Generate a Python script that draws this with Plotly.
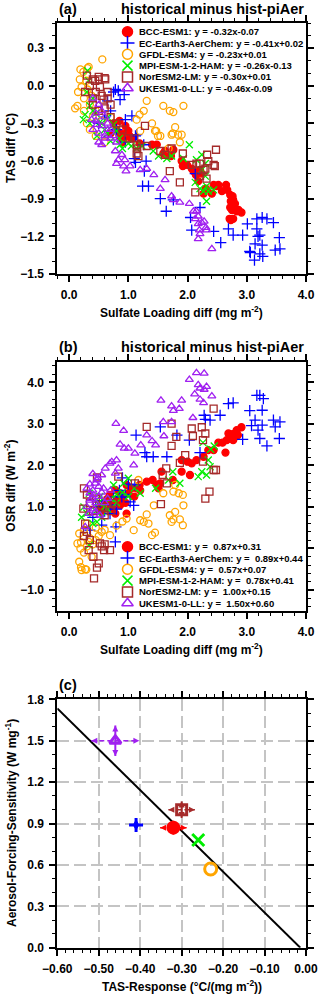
import numpy as np
import plotly.graph_objects as go

# model order, slopes/intercepts printed in the legends, errors on the slopes (panel c)
MODELS = ["BCC-ESM1", "EC-Earth3-AerChem", "GFDL-ESM4", "MPI-ESM-1-2-HAM", "NorESM2-LM", "UKESM1-0-LL"]
TAS_SLOPE = [-0.32, -0.41, -0.23, -0.26, -0.30, -0.46]
TAS_ICPT = [-0.07, 0.02, 0.01, -0.13, 0.01, -0.09]
OSR_SLOPE = [0.87, 0.89, 0.57, 0.78, 1.00, 1.50]
OSR_ICPT = [0.31, 0.44, 0.07, 0.41, 0.15, 0.60]
TAS_SLOPE_ERR = [0.032, 0.011, 0.0, 0.0, 0.032, 0.058]
OSR_SLOPE_ERR = [0.05, 0.045, 0.0, 0.0, 0.06, 0.11]

# panel (a): sulfate loading diff vs TAS diff
BCC_SO4_A = [0.85, 0.90, 0.95, 1.00, 1.02, 0.92, 1.05, 1.19, 1.40, 1.48, 1.59, 1.62, 1.65, 1.72, 1.76, 1.90,
             1.92, 1.99, 2.07, 2.10, 2.14, 2.18, 2.21, 2.24, 2.27, 2.31, 2.41, 2.44, 2.49, 2.52, 2.58, 2.65,
             2.67, 2.72, 2.73, 2.76, 2.77, 2.80, 2.72, 2.75, 2.71, 2.73, 2.77, 2.83, 2.86, 2.91,
             0.75, 0.80, 0.85, 0.70, 0.90]
BCC_TAS = [-0.40, -0.38, -0.32, -0.36, -0.40, -0.43, -0.42, -0.46, -0.47, -0.47, -0.54, -0.52, -0.55, -0.56, -0.51, -0.60,
           -0.64, -0.63, -0.66, -0.68, -0.71, -0.76, -0.67, -0.70, -0.86, -0.82, -0.86, -0.79, -0.80, -0.79, -0.84, -0.79,
           -0.83, -0.87, -0.92, -0.88, -0.91, -0.94, -0.97, -0.99, -1.06, -1.07, -1.06, -1.00, -0.99, -1.01,
           -0.30, -0.35, -0.28, -0.38, -0.45]
EC_SO4_A = [0.75, 0.78, 0.83, 0.93, 0.86, 0.95, 1.06, 1.14, 1.12, 1.26, 1.10, 1.12, 1.30, 1.27, 1.24, 1.34,
            1.54, 1.64, 1.76, 2.21, 2.05, 2.07, 2.13, 2.44, 2.56, 2.69, 2.77, 2.93, 3.01, 3.17, 3.26, 3.34,
            3.45, 3.17, 3.22, 3.19, 3.14, 3.26, 3.05, 3.06, 3.22, 3.27, 3.13, 3.48, 3.56, 3.55,
            0.50, 0.60, 0.70, 0.80, 0.95, 0.65]
EC_TAS = [-0.05, -0.03, -0.04, -0.07, -0.11, -0.27, -0.24, -0.39, -0.40, -0.47, -0.58, -0.61, -0.60, -0.68, -0.80, -0.80,
          -0.90, -1.00, -0.91, -0.97, -1.05, -1.15, -0.70, -1.16, -1.25, -1.14, -1.19, -1.19, -1.10, -1.06, -1.05, -1.06,
          -1.09, -1.14, -1.19, -1.20, -1.26, -1.27, -1.32, -1.33, -1.34, -1.36, -1.39, -1.31, -1.30, -1.21,
          -0.30, -0.25, -0.20, -0.35, -0.45, -0.12]
GFDL_SO4_A = [0.19, 0.18, 0.24, 0.31, 0.33, 0.29, 0.21, 0.14, 0.56, 0.31, 0.38, 1.31, 1.26, 1.19, 1.14, 1.40,
              1.59, 1.70, 1.76, 1.93, 1.79, 1.73, 1.84, 1.90, 1.45, 1.54, 1.20, 1.47, 1.50, 1.75, 1.87, 1.68,
              0.25, 0.35, 0.45, 0.40, 0.55, 0.30, 0.10, 0.25, 0.35, 0.45, 0.60, 0.70, 0.15]
GFDL_TAS = [0.13, 0.05, 0.11, 0.14, 0.15, 0.04, -0.01, -0.16, 0.21, -0.03, -0.08, -0.12, -0.20, -0.23, -0.27, -0.30,
            -0.16, -0.20, -0.21, -0.16, -0.33, -0.39, -0.39, -0.39, -0.36, -0.40, -0.36, -0.36, -0.40, -0.38, -0.45, -0.50,
            -0.10, -0.15, -0.20, -0.25, -0.28, -0.30, -0.18, -0.20, -0.35, -0.40, -0.45, -0.25, -0.05]
MPI_SO4_A = [0.31, 0.33, 0.27, 0.24, 0.35, 0.52, 0.75, 0.80, 0.47, 0.86, 1.00, 1.14, 1.23, 1.42, 1.51, 1.65,
             1.73, 1.93, 2.03, 2.15, 2.24, 2.30, 2.13, 2.21, 2.27, 2.35, 2.44, 2.32, 2.24, 2.30, 2.32, 0.40,
             0.60, 0.65, 0.30, 0.40, 0.45, 0.55, 0.65, 0.70, 0.85, 0.90, 1.05, 0.35]
MPI_TAS = [0.12, 0.04, -0.23, -0.27, -0.16, -0.29, -0.31, -0.36, -0.40, -0.47, -0.46, -0.50, -0.48, -0.52, -0.56, -0.58,
           -0.56, -0.58, -0.47, -0.59, -0.55, -0.62, -0.77, -0.82, -0.84, -0.84, -0.83, -0.92, -0.67, -0.72, -0.80, -0.20,
           -0.35, -0.25, -0.05, -0.10, -0.22, -0.30, -0.38, -0.44, -0.42, -0.50, -0.48, -0.30]
NOR_SO4_A = [0.44, 0.50, 0.61, 0.35, 0.52, 0.27, 0.58, 1.28, 1.14, 1.31, 1.54, 1.62, 1.73, 1.92, 1.87, 1.70,
             2.13, 2.07, 2.15, 2.21, 2.30, 2.35, 2.44, 2.46, 2.48, 2.33, 2.27, 2.21, 2.32, 1.14, 1.17, 1.00,
             0.40, 0.65, 0.70, 0.30, 0.40, 0.50, 0.60, 0.45, 0.55, 0.65, 0.40, 0.50, 0.60, 0.70, 0.80, 0.90,
             1.10, 1.15]
NOR_TAS = [0.04, 0.05, 0.05, 0.00, -0.01, -0.05, -0.11, -0.32, -0.47, -0.48, -0.52, -0.55, -0.50, -0.54, -0.77, -0.68,
           -0.85, -0.63, -0.62, -0.62, -0.66, -0.60, -0.63, -0.64, -0.51, -0.55, -0.67, -0.72, -0.74, -0.54, -0.56, -0.42,
           -0.10, -0.05, -0.15, 0.08, 0.05, 0.07, 0.06, -0.05, -0.08, -0.10, -0.15, -0.20, -0.18, -0.25, -0.30, -0.35,
           -0.42, -0.50]
UK_SO4_A = [0.47, 0.55, 0.38, 0.45, 0.60, 0.70, 0.78, 0.83, 0.80, 0.89, 0.94, 0.92, 0.96, 1.03, 1.20, 1.31,
            1.43, 1.62, 1.54, 1.73, 1.76, 1.87, 2.03, 2.10, 2.15, 2.18, 2.13, 2.18, 2.24, 2.28, 2.31, 2.20,
            2.21, 2.18, 2.32, 2.41, 0.50, 0.65, 0.40, 0.50, 0.55, 0.60, 0.65, 0.45, 0.40, 0.50, 0.60, 0.70,
            0.75, 0.80, 0.55]
UK_TAS = [-0.31, -0.32, -0.27, -0.22, -0.40, -0.42, -0.52, -0.59, -0.62, -0.55, -0.59, -0.64, -0.68, -0.64, -0.67, -0.66,
          -0.71, -0.75, -0.82, -0.88, -0.91, -0.93, -0.94, -1.00, -1.00, -1.04, -1.06, -1.10, -1.09, -1.08, -1.13, -1.15,
          -1.18, -1.22, -1.15, -1.30, -0.45, -0.35, -0.10, -0.15, -0.20, -0.25, -0.30, -0.28, -0.35, -0.38, -0.42, -0.35,
          -0.40, -0.45, -0.47]

# panel (b): sulfate loading diff vs OSR diff
BCC_SO4_B = [2.91, 2.83, 2.69, 2.77, 2.80, 2.72, 2.66, 2.59, 2.52, 2.77, 2.85, 2.64, 2.44, 2.35, 2.27, 2.15,
             2.07, 2.00, 1.90, 1.90, 2.04, 1.75, 1.54, 1.56, 1.41, 1.31, 1.19, 1.14, 0.97, 1.00, 0.86, 0.69,
             0.78, 0.52, 0.69, 0.78, 0.86, 0.97, 1.48, 1.51, 0.55, 0.60, 0.65, 0.70, 0.75, 0.80, 0.90, 0.95,
             1.05, 1.10, 1.20]
BCC_OSR = [2.92, 2.85, 2.77, 2.76, 2.69, 2.65, 2.61, 2.55, 2.55, 2.61, 2.73, 2.31, 2.37, 2.37, 2.21, 2.13,
           2.05, 2.09, 2.13, 1.85, 1.77, 1.65, 1.57, 1.85, 1.65, 1.61, 1.53, 1.45, 1.53, 1.33, 1.33, 1.29,
           1.41, 0.96, 0.96, 0.84, 1.04, 0.84, 1.53, 1.45, 0.90, 1.10, 1.20, 1.05, 0.95, 1.15, 1.20, 1.10,
           1.45, 1.25, 1.40]
EC_SO4_B = [3.17, 3.22, 3.28, 2.69, 2.77, 2.55, 3.05, 3.26, 2.28, 2.38, 2.30, 3.14, 3.26, 3.45, 3.56, 3.48,
            3.08, 3.19, 3.22, 2.93, 3.55, 3.34, 1.54, 1.13, 1.82, 1.28, 1.31, 1.42, 1.65, 2.21, 2.03, 0.89,
            1.03, 1.09, 0.79, 0.78, 0.55, 0.35, 0.69, 1.11, 0.40, 0.45, 0.55, 0.60, 0.70, 0.75, 0.80, 0.85,
            0.95, 1.00, 0.90]
EC_OSR = [3.69, 3.69, 3.61, 3.49, 3.51, 3.21, 3.32, 3.33, 3.21, 3.09, 3.11, 3.09, 2.97, 3.09, 3.05, 2.93,
          2.96, 2.85, 2.65, 2.63, 2.65, 2.47, 2.93, 2.73, 2.73, 2.31, 2.21, 2.21, 2.21, 2.31, 2.61, 1.24,
          1.12, 1.04, 0.52, 0.16, 0.56, 0.44, 0.84, 1.53, 0.75, 1.00, 1.15, 0.90, 1.05, 1.25, 0.95, 1.40,
          1.30, 1.55, 1.70]
GFDL_SO4_B = [1.59, 1.76, 1.85, 1.92, 1.79, 1.17, 1.93, 1.43, 1.79, 1.70, 1.76, 1.87, 1.92, 1.73, 1.31, 1.20,
              1.26, 1.34, 1.09, 1.40, 1.45, 0.97, 0.69, 0.17, 0.14, 0.19, 0.17, 0.21, 0.29, 0.33, 0.38, 0.45,
              0.55, 0.30, 0.20, 0.25, 0.30, 0.35, 0.40, 0.50, 0.25, 0.45, 0.60, 0.20, 0.27, 0.80, 0.90]
GFDL_OSR = [1.33, 1.37, 1.33, 1.29, 1.53, 1.65, 1.04, 1.04, 0.88, 0.80, 0.70, 0.70, 0.56, 0.64, 0.82, 0.68,
            0.64, 0.60, 0.44, 0.32, 0.38, 0.72, 0.32, 0.36, 0.12, 0.00, -0.32, -0.52, -0.51, 0.16, -0.20, 0.20,
            0.40, 0.60, 0.15, -0.10, 0.05, 0.25, 0.10, 0.30, 0.45, 0.50, 0.45, -0.45, -0.50, 0.55, 0.65]
MPI_SO4_B = [2.26, 2.39, 2.45, 2.35, 2.38, 2.24, 2.32, 2.18, 1.87, 1.75, 1.68, 1.46, 1.00, 0.92, 1.20, 0.75,
             0.52, 0.34, 0.21, 0.34, 0.47, 0.60, 0.80, 0.25, 0.30, 0.40, 0.45, 0.50, 0.55, 0.65, 0.70, 0.80,
             0.90, 1.00, 1.10]
MPI_OSR = [2.55, 2.39, 2.47, 2.13, 1.97, 1.85, 1.77, 1.73, 1.57, 1.85, 1.65, 1.45, 1.69, 1.57, 1.33, 1.53,
           1.25, 1.33, 0.75, 0.08, 0.64, 1.00, 1.10, 1.00, 0.85, 0.60, 0.90, 1.10, 0.75, 0.95, 1.20, 1.30,
           1.35, 1.25, 1.45]
NOR_SO4_B = [2.44, 2.24, 2.07, 2.09, 2.30, 2.26, 1.73, 1.81, 1.73, 1.31, 1.96, 1.87, 1.64, 1.58, 1.65, 2.26,
             2.44, 2.48, 0.83, 0.47, 1.11, 2.37, 2.30, 1.55, 0.24, 0.27, 0.52, 0.59, 0.69, 0.33, 0.41, 0.50,
             0.47, 0.42, 0.25, 0.30, 0.35, 0.40, 0.45, 0.55, 0.60, 0.65, 0.30, 0.35, 0.25, 0.70, 0.75, 0.55,
             0.60]
NOR_OSR = [3.37, 2.92, 2.89, 2.71, 2.77, 2.61, 3.01, 2.69, 2.47, 2.93, 2.25, 2.06, 1.93, 1.77, 1.57, 2.09,
           1.89, 1.89, 1.73, 1.71, 1.57, 1.37, 1.20, 1.07, 0.96, 0.60, 0.12, -0.04, -0.04, -0.04, -0.20, -0.36,
           -0.46, -0.72, 1.45, 1.30, 1.10, 0.90, 1.20, 1.00, 0.80, 1.15, 0.40, 0.20, 0.30, 0.90, 1.10, 0.05,
           0.10]
UK_SO4_B = [2.15, 2.28, 2.03, 2.18, 2.21, 2.28, 2.32, 2.41, 2.12, 2.27, 2.21, 1.55, 1.90, 1.73, 1.76, 1.86,
            2.09, 0.79, 1.59, 1.73, 0.92, 1.31, 1.60, 1.40, 1.46, 1.21, 0.86, 0.93, 1.00, 1.11, 0.72, 0.69,
            0.80, 1.09, 0.83, 0.78, 0.61, 0.55, 0.47, 0.44, 0.50, 0.58, 0.35, 0.41, 0.35, 0.33, 0.44, 0.52,
            0.27, 0.30, 0.35, 0.40, 0.38, 0.45, 0.50, 0.55, 0.60, 0.42, 0.30, 0.65, 0.70, 0.48, 0.40]
UK_OSR = [4.23, 4.22, 4.07, 3.94, 3.86, 3.83, 3.90, 3.67, 3.72, 3.51, 3.59, 3.57, 3.57, 3.43, 3.32, 3.37,
          3.15, 3.01, 3.05, 3.05, 2.84, 2.73, 2.71, 2.59, 2.49, 2.49, 2.51, 2.41, 2.41, 2.29, 2.09, 2.05,
          2.13, 2.01, 1.93, 1.81, 1.93, 1.77, 1.65, 1.57, 1.49, 1.45, 1.33, 1.29, 1.16, 0.84, 0.88, 0.80,
          0.52, 1.45, 1.55, 1.40, 1.20, 1.10, 1.25, 1.35, 1.10, 0.95, 1.00, 1.20, 1.40, 1.70, 1.80]

SO4_A = [BCC_SO4_A, EC_SO4_A, GFDL_SO4_A, MPI_SO4_A, NOR_SO4_A, UK_SO4_A]
TAS = [BCC_TAS, EC_TAS, GFDL_TAS, MPI_TAS, NOR_TAS, UK_TAS]
SO4_B = [BCC_SO4_B, EC_SO4_B, GFDL_SO4_B, MPI_SO4_B, NOR_SO4_B, UK_SO4_B]
OSR = [BCC_OSR, EC_OSR, GFDL_OSR, MPI_OSR, NOR_OSR, UK_OSR]

# styles
COLORS = ["#FF0000", "#0000FF", "#FFA500", "#00EE00", "#A52A2A", "#A020F0"]
SYMBOLS = ["circle", "cross-thin", "circle-open", "x-thin", "square-open", "triangle-up-open"]
SIZES = [7, 8, 7, 7, 7, 7]
SIZES_C = [11, 10, 12, 12, 10, 10]
FONT = "Liberation Sans, Arial, sans-serif"
W, H = 320, 998
X0, X1 = 57.3, 306.0              # plot frame, px
PANELS = [(23.0, 274.0), (361.7, 610.7), (699.3, 947.7)]  # top/bottom px


def py(v):
    return 1 - v / H


def marker(i, size, lw):
    return dict(symbol=SYMBOLS[i], size=size, color=COLORS[i],
                line=dict(color=COLORS[i], width=lw))


fig = go.Figure()

for i in range(len(MODELS)):
    fig.add_trace(go.Scatter(x=SO4_A[i], y=TAS[i], mode="markers", xaxis="x", yaxis="y",
                             marker=marker(i, SIZES[i], 1.3), showlegend=False))
for i in range(len(MODELS)):
    fig.add_trace(go.Scatter(x=SO4_B[i], y=OSR[i], mode="markers", xaxis="x2", yaxis="y2",
                             marker=marker(i, SIZES[i], 1.3), showlegend=False))

# panel (c): regression line across models
slope, icpt = np.polyfit(TAS_SLOPE, OSR_SLOPE, 1)
x_end = -icpt / slope
fig.add_trace(go.Scatter(x=[-0.6, x_end], y=[slope * -0.6 + icpt, 0.0], mode="lines",
                         xaxis="x3", yaxis="y3", line=dict(color="black", width=2), showlegend=False))

for i in range(len(MODELS)):
    x, y = TAS_SLOPE[i], OSR_SLOPE[i]
    ex, ey = TAS_SLOPE_ERR[i], OSR_SLOPE_ERR[i]
    if ex > 0:
        fig.add_trace(go.Scatter(x=[x - ex, x + ex], y=[y, y], mode="lines", xaxis="x3", yaxis="y3",
                                 line=dict(color=COLORS[i], width=1.5, dash="5px,3px"), showlegend=False))
        fig.add_trace(go.Scatter(x=[x - ex, x + ex], y=[y, y], mode="markers", xaxis="x3", yaxis="y3",
                                 marker=dict(symbol=["arrow-left", "arrow-right"], size=6, color=COLORS[i]),
                                 showlegend=False))
    if ey > 0:
        fig.add_trace(go.Scatter(x=[x, x], y=[y - ey, y + ey], mode="lines", xaxis="x3", yaxis="y3",
                                 line=dict(color=COLORS[i], width=2), showlegend=False))
        fig.add_trace(go.Scatter(x=[x, x], y=[y - ey, y + ey], mode="markers", xaxis="x3", yaxis="y3",
                                 marker=dict(symbol=["arrow-down", "arrow-up"], size=6, color=COLORS[i]),
                                 showlegend=False))
for i in range(len(MODELS)):
    fig.add_trace(go.Scatter(x=[TAS_SLOPE[i]], y=[OSR_SLOPE[i]], mode="markers", xaxis="x3", yaxis="y3",
                             marker=marker(i, SIZES_C[i], 3), showlegend=False))

# legends drawn by hand on a pixel frame covering the figure
LEG_TOP = [31.7, 546.7]
LEG_STEP = 11.3
annotations = []
for k, (slopes, icpts) in enumerate([(TAS_SLOPE, TAS_ICPT), (OSR_SLOPE, OSR_ICPT)]):
    ys = [LEG_TOP[k] + j * LEG_STEP for j in range(len(MODELS))]
    for i in range(len(MODELS)):
        fig.add_trace(go.Scatter(x=[127.5], y=[ys[i]], mode="markers", xaxis="x4", yaxis="y4",
                                 marker=marker(i, 10, 1.5), showlegend=False))
        label = f"{MODELS[i]}: y = {slopes[i]: .2f}x{icpts[i]:+.2f}".replace("  ", "\u00a0 ")
        annotations.append(dict(x=137, y=ys[i], xref="x4", yref="y4", text=label, showarrow=False,
                                xanchor="left", yanchor="middle",
                                font=dict(family=FONT, size=9.5, color="black", weight="bold")))

# titles and axis titles
for k, tag in enumerate(["(a)", "(b)", "(c)"]):
    top = PANELS[k][0]
    annotations.append(dict(x=X0 / W, y=py(top - 14.5), xref="paper", yref="paper", text=tag,
                            showarrow=False, xanchor="left", yanchor="middle",
                            font=dict(family=FONT, size=14.5, color="black", weight="bold")))
    if k < 2:
        annotations.append(dict(x=X1 / W, y=py(top - 14.5), xref="paper", yref="paper",
                                text="historical minus hist-piAer", showarrow=False,
                                xanchor="right", yanchor="middle",
                                font=dict(family=FONT, size=14.5, color="black", weight="bold")))

XTITLES = ["Sulfate Loading diff (mg m<sup>-2</sup>)", "Sulfate Loading diff (mg m<sup>-2</sup>)",
           "TAS-Response (°C/(mg m<sup>-2</sup>))"]
YTITLES = ["TAS diff (°C)", "OSR diff (W m<sup>-2</sup>)", "Aerosol-Forcing-Sensitivity (W mg<sup>-1</sup>)"]
for k in range(3):
    top, bot = PANELS[k]
    annotations.append(dict(x=(X0 + X1) / 2 / W, y=py(bot + 38), xref="paper", yref="paper",
                            text=XTITLES[k], showarrow=False, xanchor="center", yanchor="middle",
                            font=dict(family=FONT, size=12, color="black", weight="bold")))
    annotations.append(dict(x=10.5 / W, y=py((top + bot) / 2), xref="paper", yref="paper",
                            text=YTITLES[k], showarrow=False, textangle=-90, xanchor="center",
                            yanchor="middle", font=dict(family=FONT, size=12, color="black", weight="bold")))


def axis(dom, rng, dtick, minor, fmt, anchor, grid=False):
    return dict(domain=dom, range=rng, dtick=dtick, tick0=0, tickformat=fmt, anchor=anchor,
                ticks="outside", ticklen=6, tickwidth=1.5, tickcolor="black",
                minor=dict(dtick=minor, tick0=0, ticks="outside", ticklen=3, tickwidth=1,
                           tickcolor="black", showgrid=False),
                showline=True, mirror="allticks", linewidth=1.8, linecolor="black",
                showgrid=grid, gridcolor="#C4C4C4", gridwidth=1.5, griddash="12px,5px",
                zeroline=False, ticklabelstandoff=3,
                tickfont=dict(family=FONT, size=12, color="black", weight="bold"))


xdom = [X0 / W, X1 / W]
ydoms = [[py(b), py(t)] for t, b in PANELS]
fig.update_layout(
    width=W, height=H, margin=dict(l=0, r=0, t=0, b=0, autoexpand=False),
    paper_bgcolor="white", plot_bgcolor="rgba(0,0,0,0)", showlegend=False,
    xaxis=axis(xdom, [-0.2, 4.0], 1.0, 0.2, ".1f", "y"),
    yaxis=axis(ydoms[0], [-1.5, 0.5], 0.3, 0.1, ".1f", "x"),
    xaxis2=axis(xdom, [-0.2, 4.0], 1.0, 0.2, ".1f", "y2"),
    yaxis2=axis(ydoms[1], [-1.5, 4.5], 1.0, 0.2, ".1f", "x2"),
    xaxis3=axis(xdom, [-0.6, 0.0], 0.1, 0.02, ".2f", "y3", grid=True),
    yaxis3=axis(ydoms[2], [0.0, 1.8], 0.3, 0.1, ".1f", "x3", grid=True),
    xaxis4=dict(domain=[0, 1], range=[0, W], visible=False, fixedrange=True, anchor="y4"),
    yaxis4=dict(domain=[0, 1], range=[H, 0], visible=False, fixedrange=True, anchor="x4"),
    annotations=annotations,
)

fig.write_html("out.html", config={"displayModeBar": False},
               post_script="document.body.style.margin='0px';document.body.style.overflow='hidden';")
